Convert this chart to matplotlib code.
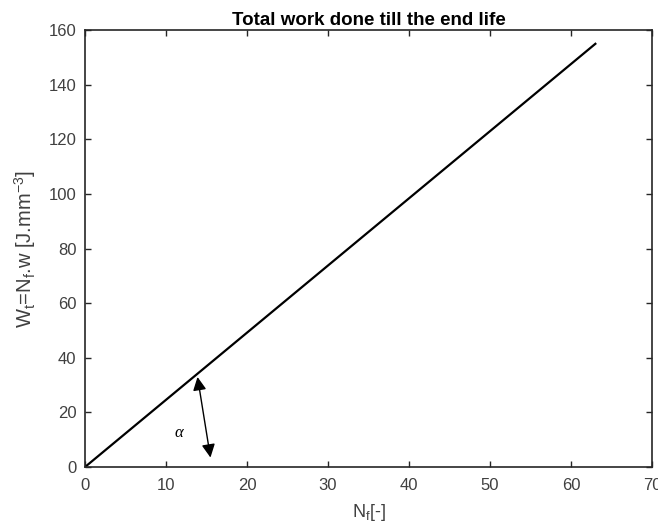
import matplotlib
matplotlib.use("Agg")
import matplotlib.pyplot as plt

plt.rcParams['font.family'] = ['Liberation Sans', 'DejaVu Sans']
plt.rcParams['mathtext.fontset'] = 'custom'
plt.rcParams['mathtext.rm'] = 'Liberation Sans'
plt.rcParams['mathtext.it'] = 'Liberation Sans:italic'

# Total work line: cycles to failure vs. accumulated work
nf = [0, 63]
wt = [0, 155]

# Angle marker (double arrow) and its label
arrow_start = (13.9, 33.0)
arrow_end = (15.5, 3.5)
alpha_pos = (11.6, 12.5)

xticks = [0, 10, 20, 30, 40, 50, 60, 70]
yticks = [0, 20, 40, 60, 80, 100, 120, 140, 160]

fig = plt.figure(figsize=(6.58, 5.29), dpi=100)
ax = fig.add_axes([0.129, 0.117, 0.862, 0.826])

ax.plot(nf, wt, color='black', linewidth=1.6)

ax.annotate('', xy=arrow_end, xytext=arrow_start,
            arrowprops=dict(arrowstyle='<|-|>', color='black', lw=1.0,
                            mutation_scale=20, shrinkA=0, shrinkB=0))
ax.text(*alpha_pos, 'α', fontsize=12, ha='center', va='center',
        family='Liberation Serif', style='italic')

ax.set_xlim(0, 70)
ax.set_ylim(0, 160)
ax.set_xticks(xticks)
ax.set_yticks(yticks)
ax.tick_params(direction='in', top=True, right=True, length=4,
               labelsize=12, colors='#262626', labelcolor='#404040', width=1)
ax.tick_params(axis='x', pad=8)
ax.tick_params(axis='y', pad=6)
for s in ax.spines.values():
    s.set_color('#262626')
    s.set_linewidth(1.2)

ax.set_title('Total work done till the end life', fontsize=13.5, fontweight='bold', pad=4)
ax.set_xlabel(r'N$_\mathrm{f}$[-]', fontsize=13, color='#404040', labelpad=6)
ax.set_ylabel(r'W$_\mathrm{t}$=N$_\mathrm{f}$.w [J.mm$^{-3}$]', fontsize=14.5,
              color='#404040', labelpad=8)

fig.savefig('out.png', dpi=100)
